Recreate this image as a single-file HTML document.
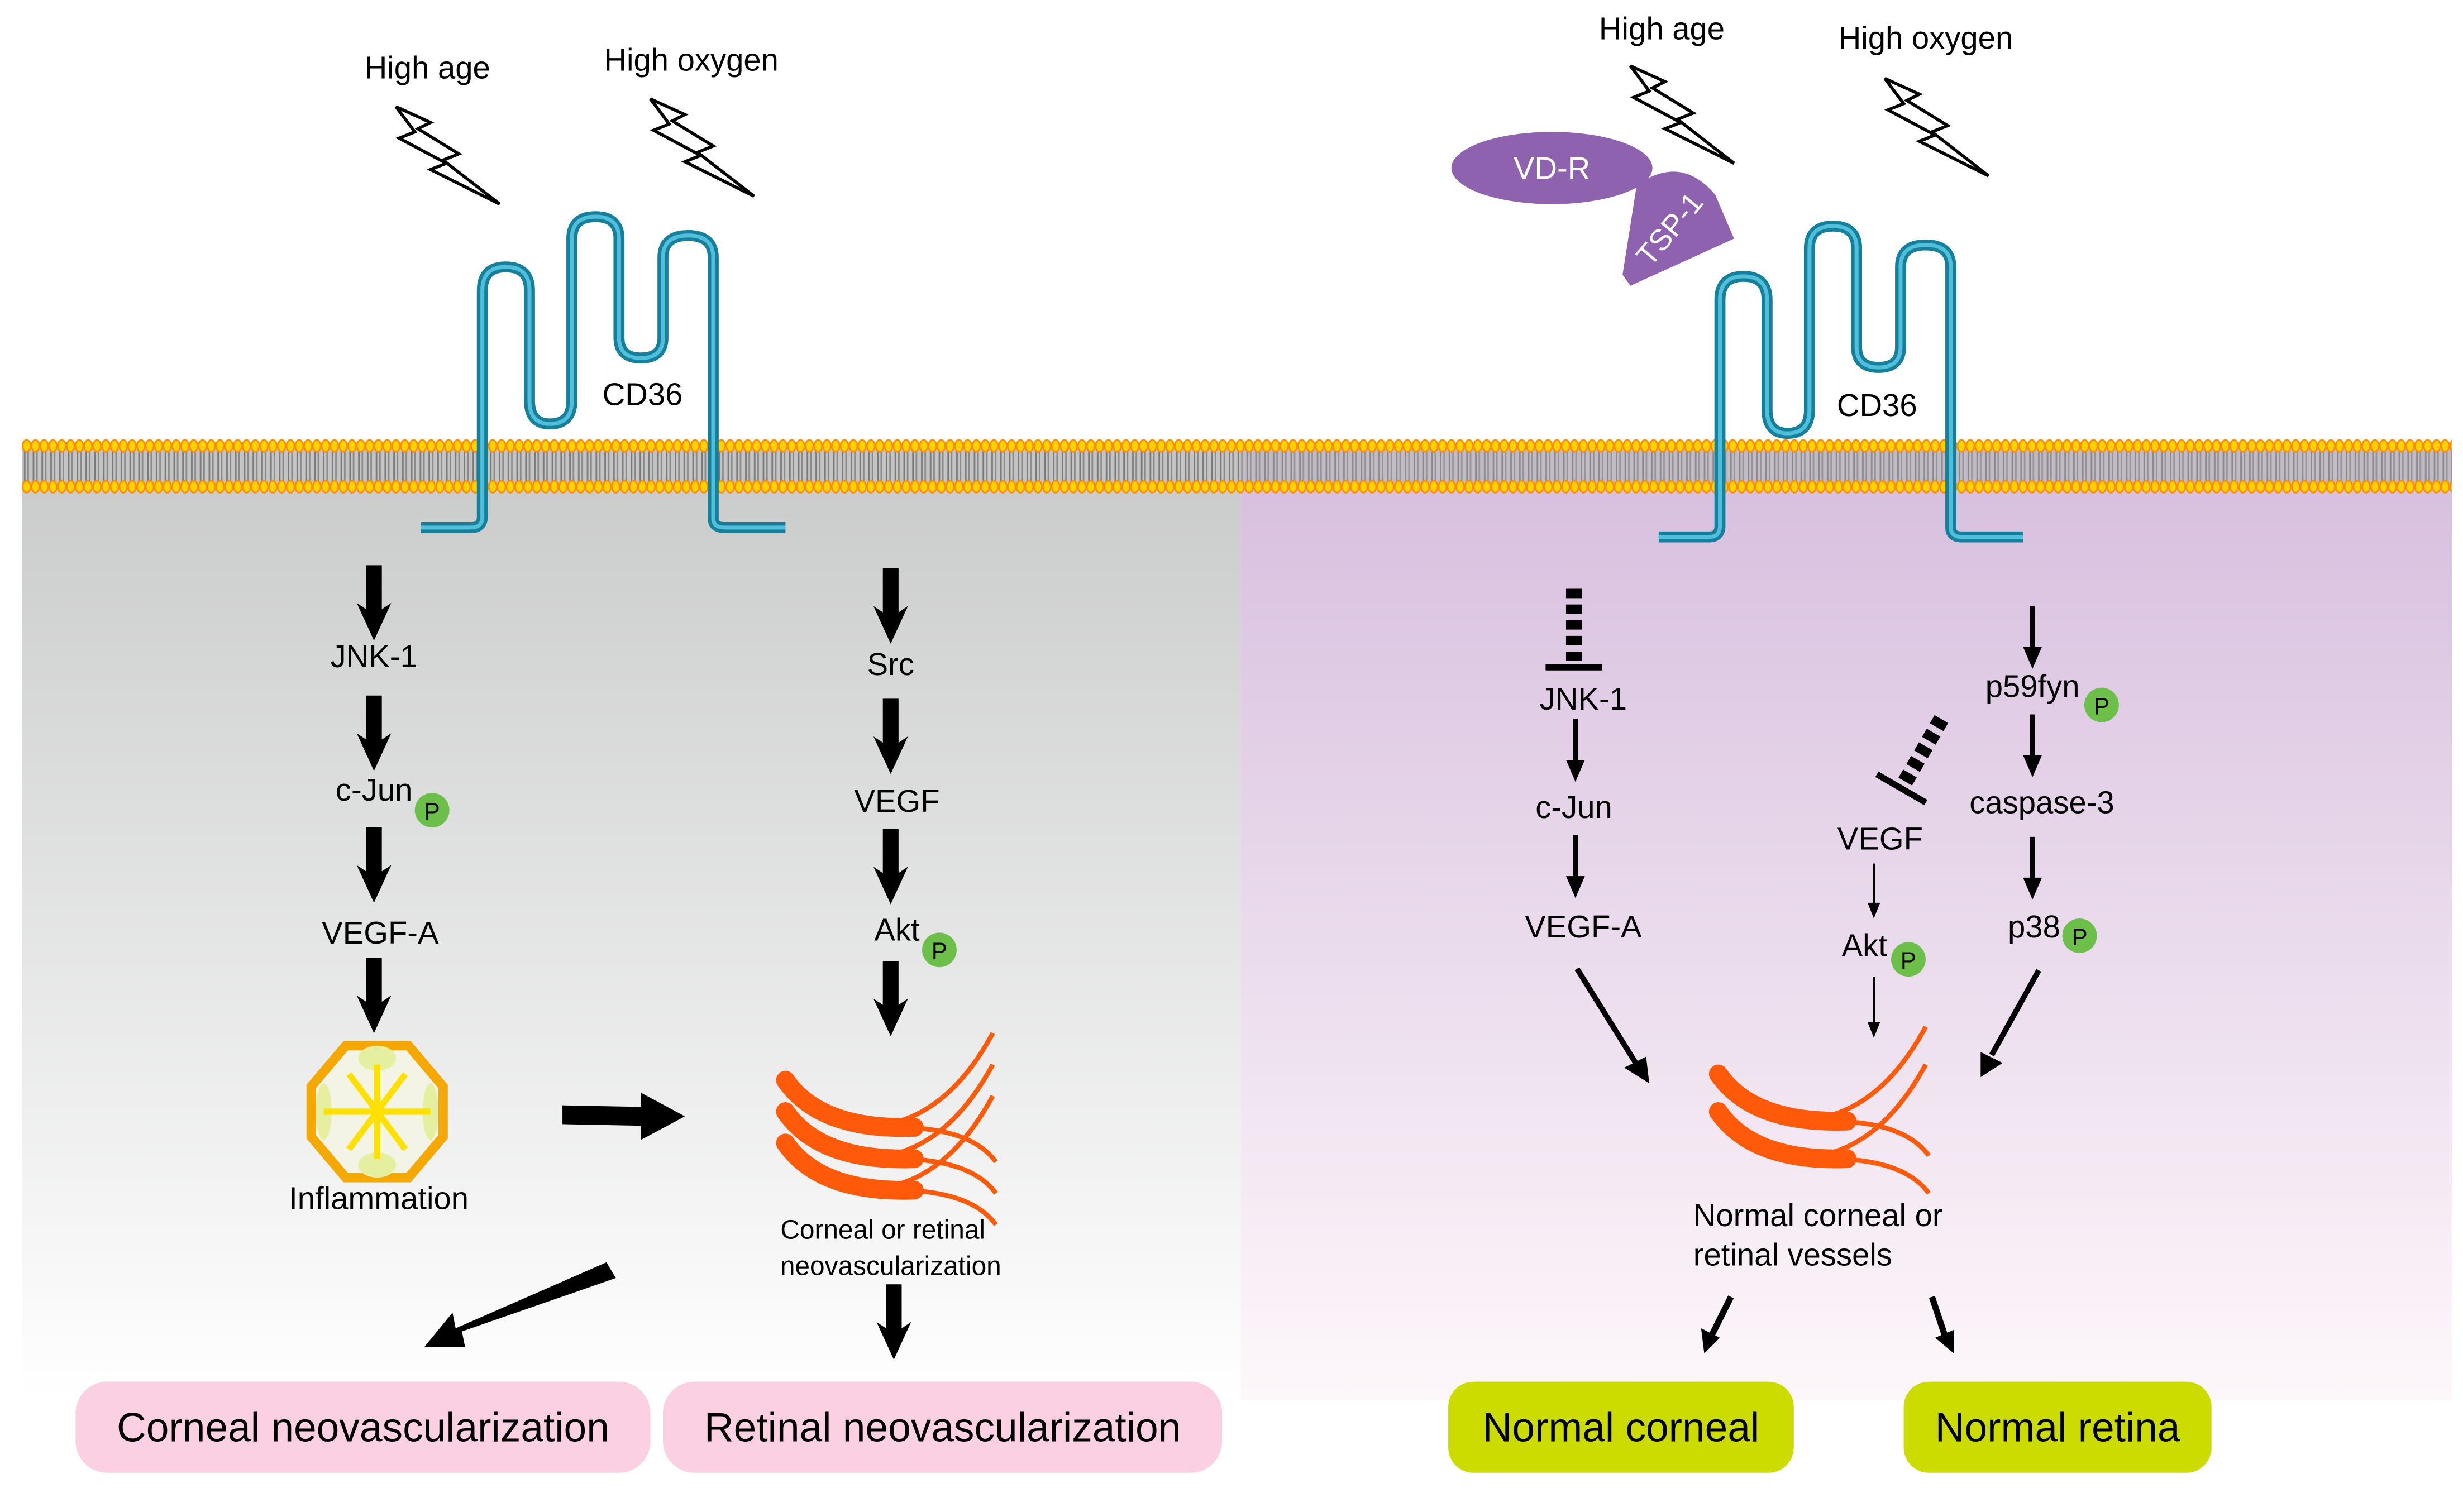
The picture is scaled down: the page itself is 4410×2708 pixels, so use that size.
<!DOCTYPE html>
<html><head><meta charset="utf-8"><style>html,body{margin:0;padding:0;background:#fff}svg{display:block}</style></head>
<body>
<svg width="4410" height="2708" viewBox="0 0 1568 963" xmlns="http://www.w3.org/2000/svg" font-family="Liberation Sans, sans-serif">
<defs>
<linearGradient id="gg" x1="0" y1="0" x2="0" y2="1"><stop offset="0" stop-color="#cbcccc"/><stop offset="1" stop-color="#ffffff"/></linearGradient>
<linearGradient id="pg" x1="0" y1="0" x2="0" y2="1"><stop offset="0" stop-color="#d8c0df"/><stop offset="1" stop-color="#fdf7fa"/></linearGradient>
<pattern id="mem" x="14" y="284" width="5.6" height="26" patternUnits="userSpaceOnUse">
<rect width="5.6" height="26" fill="#c4c4c4"/>
<line x1="1.6" y1="0" x2="1.6" y2="26" stroke="#7a7a7a" stroke-width="1"/>
<line x1="3.8" y1="0" x2="3.8" y2="26" stroke="#8a8a8a" stroke-width="1"/>
</pattern>
<pattern id="heads" x="14" y="278" width="5.6" height="38" patternUnits="userSpaceOnUse">
<ellipse cx="2.8" cy="6" rx="2.5" ry="3.8" fill="#ffd200" stroke="#ff8c00" stroke-width="1"/>
<ellipse cx="2.8" cy="32" rx="2.5" ry="3.8" fill="#ffd200" stroke="#ff8c00" stroke-width="1"/>
</pattern>
<g id="bolt"><polygon points="0,0 22,10 14,14 40,30 30,34 66,62 22,40 32,36 2,20 12,16" fill="#fff" stroke="#000" stroke-width="2"/></g>
<g id="P"><circle r="11" fill="#6cc04a"/><text y="6" text-anchor="middle" font-size="15" fill="#000">P</text></g>
<g id="cd36">
<path d="M268,336 H300 Q307,336 307,329 V185 Q307,170 322,170 Q337,170 337,185 V255 Q337,270 350,270 Q364,270 364,255 V152 Q364,138 379,138 Q394,138 394,152 V215 Q394,228 408,228 Q422,228 422,215 V164 Q422,150 438,150 Q454,150 454,164 V330 Q454,336 461,336 H500" fill="none" stroke="#157f9c" stroke-width="7"/>
<path d="M268,336 H300 Q307,336 307,329 V185 Q307,170 322,170 Q337,170 337,185 V255 Q337,270 350,270 Q364,270 364,255 V152 Q364,138 379,138 Q394,138 394,152 V215 Q394,228 408,228 Q422,228 422,215 V164 Q422,150 438,150 Q454,150 454,164 V330 Q454,336 461,336 H500" fill="none" stroke="#4fbfdc" stroke-width="2.5"/>
</g>
<g id="darr"><polygon points="-5,0 5,0 5,28 11,24 0,48 -11,24 -5,28" fill="#000"/></g>
<g id="tarr"><line x1="0" y1="0" x2="0" y2="30" stroke="#000" stroke-width="3"/><polygon points="-6,26 6,26 0,40" fill="#000"/></g>
<g id="ves">
<path d="M65,28 Q105,20 132,-30" fill="none" stroke="#ff5a0a" stroke-width="3"/>
<path d="M70,30 Q118,30 134,52" fill="none" stroke="#ff5a0a" stroke-width="3"/>
<path d="M0,0 Q22,32 82,30" fill="none" stroke="#ff5a0a" stroke-width="12" stroke-linecap="round"/>
</g>
</defs>
<rect width="1568" height="963" fill="#fff"/>
<rect x="14" y="312" width="776" height="580" fill="url(#gg)"/>
<rect x="790" y="312" width="771" height="580" fill="url(#pg)"/>
<rect x="14" y="284" width="1547" height="26" fill="url(#mem)"/>
<rect x="790" y="284" width="771" height="26" fill="#b9a9c2" opacity="0.3"/>
<rect x="14" y="278" width="1547" height="38" fill="url(#heads)"/>

<text x="272" y="50" font-size="20" text-anchor="middle">High age</text>
<text x="440" y="45" font-size="20" text-anchor="middle">High oxygen</text>
<use href="#bolt" x="252" y="68"/>
<use href="#bolt" x="414" y="63"/>
<use href="#cd36"/>
<text x="409" y="258" font-size="20" text-anchor="middle">CD36</text>

<text x="1058" y="25" font-size="20" text-anchor="middle">High age</text>
<text x="1226" y="31" font-size="20" text-anchor="middle">High oxygen</text>
<use href="#bolt" x="1038" y="42"/>
<use href="#bolt" x="1200" y="50"/>
<ellipse cx="988" cy="107" rx="64" ry="23" fill="#8f62b0"/>
<text x="988" y="114" font-size="20" fill="#fff" text-anchor="middle">VD-R</text>
<path d="M1042,118 Q1070,98 1092,124 L1104,152 L1038,182 L1033,175 Z" fill="#8f62b0"/>
<text x="1068" y="150" font-size="19" fill="#fff" text-anchor="middle" transform="rotate(-50 1068 150)">TSP-1</text>
<use href="#cd36" transform="translate(788,6)"/>
<text x="1195" y="265" font-size="20" text-anchor="middle">CD36</text>

<use href="#darr" x="238" y="360"/>
<text x="238" y="425" font-size="20" text-anchor="middle">JNK-1</text>
<use href="#darr" x="238" y="443"/>
<text x="238" y="510" font-size="20" text-anchor="middle">c-Jun</text>
<use href="#P" x="275" y="516"/>
<use href="#darr" x="238" y="527"/>
<text x="242" y="601" font-size="20" text-anchor="middle">VEGF-A</text>
<use href="#darr" x="238" y="610"/>
<g transform="translate(240,706)">
<polygon points="-20,-40 20,-40 42,-14 42,18 20,44 -20,44 -42,18 -42,-14" fill="#f4f4e6" stroke="#f5a800" stroke-width="6"/>
<ellipse cx="0" cy="-32" rx="12" ry="8" fill="#e6eea0"/><ellipse cx="0" cy="36" rx="12" ry="8" fill="#e6eea0"/>
<ellipse cx="-34" cy="2" rx="5" ry="18" fill="#e6eea0"/><ellipse cx="34" cy="2" rx="5" ry="18" fill="#e6eea0"/>
<g stroke="#ffe000" stroke-width="4"><line x1="0" y1="-28" x2="0" y2="32"/><line x1="-34" y1="2" x2="34" y2="2"/><line x1="-18" y1="-22" x2="18" y2="26"/><line x1="18" y1="-22" x2="-18" y2="26"/></g>
</g>
<text x="241" y="770" font-size="20" text-anchor="middle">Inflammation</text>
<polygon points="358,704 408,705 408,696 436,711 408,726 408,717 358,716" fill="#000"/>
<polygon points="386,804 392,814 294,848 296,858 270,858 288,836 290,846" fill="#000"/>

<use href="#darr" x="567" y="362"/>
<text x="567" y="430" font-size="20" text-anchor="middle">Src</text>
<use href="#darr" x="567" y="445"/>
<text x="571" y="517" font-size="20" text-anchor="middle">VEGF</text>
<use href="#darr" x="567" y="528"/>
<text x="571" y="599" font-size="20" text-anchor="middle">Akt</text>
<use href="#P" x="598" y="605"/>
<use href="#darr" x="567" y="612"/>
<use href="#ves" x="500" y="688"/>
<use href="#ves" x="500" y="708"/>
<use href="#ves" x="500" y="728"/>
<text x="562" y="789" font-size="17" text-anchor="middle">Corneal or retinal</text>
<text x="567" y="812" font-size="17" text-anchor="middle">neovascularization</text>
<use href="#darr" x="569" y="818"/>
<rect x="48" y="880" width="366" height="58" rx="20" fill="#fbd0e2"/>
<text x="231" y="918" font-size="26" text-anchor="middle">Corneal neovascularization</text>
<rect x="422" y="880" width="356" height="58" rx="20" fill="#fbd0e2"/>
<text x="600" y="918" font-size="26" text-anchor="middle">Retinal neovascularization</text>

<g fill="#000"><rect x="997" y="375" width="10" height="6"/><rect x="997" y="385" width="10" height="6"/><rect x="997" y="395" width="10" height="6"/><rect x="997" y="405" width="10" height="6"/><rect x="997" y="415" width="10" height="6"/><rect x="984" y="423" width="36" height="4"/></g>
<text x="1008" y="452" font-size="20" text-anchor="middle">JNK-1</text>
<use href="#tarr" x="1003" y="458"/>
<text x="1002" y="521" font-size="20" text-anchor="middle">c-Jun</text>
<use href="#tarr" x="1003" y="532"/>
<text x="1008" y="597" font-size="20" text-anchor="middle">VEGF-A</text>
<line x1="1004" y1="617" x2="1042" y2="678" stroke="#000" stroke-width="3.5"/>
<polygon points="1034,680 1048,673 1050,690" fill="#000"/>

<g transform="translate(1210,503) rotate(30)" fill="#000"><rect x="-5" y="-52" width="10" height="6"/><rect x="-5" y="-42" width="10" height="6"/><rect x="-5" y="-32" width="10" height="6"/><rect x="-5" y="-22" width="10" height="6"/><rect x="-5" y="-12" width="10" height="6"/><rect x="-18" y="-3" width="36" height="4"/></g>
<text x="1197" y="541" font-size="20" text-anchor="middle">VEGF</text>
<line x1="1193" y1="550" x2="1193" y2="576" stroke="#000" stroke-width="1.5"/><polygon points="1189,575 1197,575 1193,585" fill="#000"/>
<text x="1187" y="609" font-size="20" text-anchor="middle">Akt</text>
<use href="#P" x="1215" y="611"/>
<line x1="1193" y1="622" x2="1193" y2="652" stroke="#000" stroke-width="1.5"/><polygon points="1189,651 1197,651 1193,661" fill="#000"/>

<use href="#tarr" x="1294" y="386"/>
<text x="1294" y="444" font-size="20" text-anchor="middle">p59fyn</text>
<use href="#P" x="1338" y="449"/>
<use href="#tarr" x="1294" y="455"/>
<text x="1300" y="518" font-size="20" text-anchor="middle">caspase-3</text>
<use href="#tarr" x="1294" y="533"/>
<text x="1295" y="597" font-size="20" text-anchor="middle">p38</text>
<use href="#P" x="1324" y="596"/>
<line x1="1298" y1="618" x2="1268" y2="672" stroke="#000" stroke-width="3.5"/>
<polygon points="1261,670 1275,677 1261,686" fill="#000"/>

<use href="#ves" x="1094" y="684"/>
<use href="#ves" x="1094" y="708"/>
<text x="1078" y="781" font-size="20">Normal corneal or</text>
<text x="1078" y="806" font-size="20">retinal vessels</text>
<line x1="1102" y1="826" x2="1090" y2="850" stroke="#000" stroke-width="4"/><polygon points="1083,846 1095,852 1085,862" fill="#000"/>
<line x1="1230" y1="826" x2="1238" y2="850" stroke="#000" stroke-width="4"/><polygon points="1232,852 1244,847 1244,862" fill="#000"/>
<rect x="922" y="880" width="220" height="58" rx="16" fill="#cddc00"/>
<text x="1032" y="918" font-size="26" text-anchor="middle">Normal corneal</text>
<rect x="1212" y="880" width="196" height="58" rx="16" fill="#cddc00"/>
<text x="1310" y="918" font-size="26" text-anchor="middle">Normal retina</text>
</svg>
</body></html>
